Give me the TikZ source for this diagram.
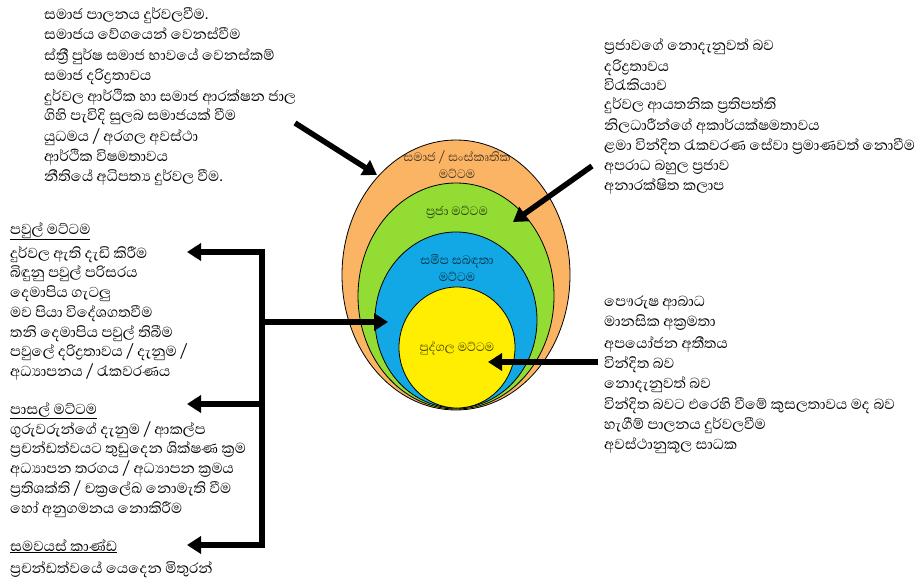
\documentclass[tikz,border=0pt]{standalone}
\usepackage{fontspec}
\newfontfamily\sinhala[Script=Sinhala]{Abhaya Libre}
\usetikzlibrary{arrows.meta,shapes.geometric}

\definecolor{ringorange}{RGB}{250,180,100}
\definecolor{ringgreen}{RGB}{146,220,52}
\definecolor{ringblue}{RGB}{18,168,230}
\definecolor{ringyellow}{RGB}{255,238,0}

\tikzset{
  item/.style={font=\sinhala\fontsize{18.5}{20}\selectfont, anchor=base west, inner sep=0pt, yshift=-2pt},
  level/.style={font=\sinhala\fontsize{15.5}{17}\selectfont, align=center, text=black, text opacity=0.7, inner sep=0pt},
  ring/.style={ellipse, draw=black, line width=0.8pt, inner sep=0pt},
  fat/.style={line width=5.5pt}
}

\begin{document}
\begin{tikzpicture}[x=1pt,y=-1pt,>={Triangle[length=14pt,width=17pt]}]
        \useasboundingbox (0,0) rectangle (924,578);
        % the four levels
        \node[ring, fill=ringorange, minimum width=228, minimum height=270] (socring) at (456,275) {};
        \node[ring, fill=ringgreen, minimum width=196, minimum height=226] (comring) at (456,296) {};
        \node[ring, fill=ringblue, minimum width=162, minimum height=176] (relring) at (456,320) {};
        \node[ring, fill=ringyellow, minimum width=116, minimum height=121] (perring) at (457,347.5) {};
        \node[level] (soclabel) at (457,165) {සමාජ / සංස්කෘතික\\මට්ටම};
        \node[level] (comlabel) at (457,212) {ප්‍රජා මට්ටම};
        \node[level] (rellabel) at (457,268) {සමීප සබඳතා\\මට්ටම};
        \node[level] (perlabel) at (457,348) {පුද්ගල මට්ටම};

        % social level
        \node[item] (soc1) at (44,18) {සමාජ පාලනය දුර්වලවීම.};
        \node[item] (soc2) at (44,38) {සමාජය වේගයෙන් වෙනස්වීම};
        \node[item] (soc3) at (44,58) {ස්ත්‍රී පුර්ෂ සමාජ භාවයේ වෙනස්කම්};
        \node[item] (soc4) at (44,79) {සමාජ දරිද්‍රතාවය};
        \node[item] (soc5) at (44,99) {දුර්වල ආර්ථික හා සමාජ ආරක්ෂන ජාල};
        \node[item] (soc6) at (44,119) {ගිහි පැවිදි සුලබ සමාජයක් වීම};
        \node[item] (soc7) at (44,139) {යුධමය / අරගල අවස්ථා};
        \node[item] (soc8) at (44,159) {ආර්ථික විෂමතාවය};
        \node[item] (soc9) at (44,179) {නීතියේ අධිපත්‍ය දුර්වල වීම.};

        % community level
        \node[item] (com1) at (604,49) {ප්‍රජාවගේ නොදැනුවත් බව};
        \node[item] (com2) at (604,69) {දරිද්‍රතාවය};
        \node[item] (com3) at (604,89) {විරැකියාව};
        \node[item] (com4) at (604,108) {දුර්වල ආයතනික ප්‍රතිපත්ති};
        \node[item] (com5) at (604,128) {නිලධාරීන්ගේ අකාර්යක්ෂමතාවය};
        \node[item] (com6) at (604,148) {ළමා වින්දිත රැකවරණ සේවා ප්‍රමාණවත් නොවීම};
        \node[item] (com7) at (604,168) {අපරාධ බහුල ප්‍රජාව};
        \node[item] (com8) at (604,188) {අනාරක්ෂිත කලාප};

        % family
        \node[item] (fam0) at (10,232) {\underline{පවුල් මට්ටම}};
        \node[item] (fam1) at (10,256) {දුර්වල ඇති දැඩි කිරීම};
        \node[item] (fam2) at (10,275) {බිඳුනු පවුල් පරිසරය};
        \node[item] (fam3) at (10,295) {දෙමාපිය ගැටලු};
        \node[item] (fam4) at (10,315) {මව පියා විදේශගතවීම};
        \node[item] (fam5) at (10,335) {තනි දෙමාපිය පවුල් තිබීම};
        \node[item] (fam6) at (10,354) {පවුලේ දරිද්‍රතාවය / දැනුම /};
        \node[item] (fam7) at (10,374) {අධ්‍යාපනය / රැකවරණය};

        % school
        \node[item] (sch0) at (10,412) {\underline{පාසල් මට්ටම}};
        \node[item] (sch1) at (10,432) {ගුරුවරුන්ගේ දැනුම / ආකල්ප};
        \node[item] (sch2) at (10,451) {ප්‍රචන්ඩත්වයට තුඩුදෙන ශික්ෂණ ක්‍රම};
        \node[item] (sch3) at (10,471) {අධ්‍යාපන තරගය / අධ්‍යාපන ක්‍රමය};
        \node[item] (sch4) at (10,491) {ප්‍රතිශක්ති / චක්‍රලේඛ නොමැති වීම};
        \node[item] (sch5) at (10,511) {හෝ අනුගමනය නොකිරීම};

        % peers
        \node[item] (peer0) at (10,549) {\underline{සමවයස් කාණ්ඩ}};
        \node[item] (peer1) at (10,571) {ප්‍රචන්ඩත්වයේ යෙදෙන මිතුරන්};

        % individual level
        \node[item] (per1) at (604,304) {පෞරුෂ ආබාධ};
        \node[item] (per2) at (604,324) {මානසික අක්‍රමතා};
        \node[item] (per3) at (604,346) {අපයෝජන අතීතය};
        \node[item] (per4) at (604,366) {වින්දිත බව};
        \node[item] (per5) at (604,386) {නොදැනුවත් බව};
        \node[item] (per6) at (604,407) {වින්දිත බවට එරෙහි වීමේ කුසලතාවය මද බව};
        \node[item] (per7) at (604,427) {හැගීම් පාලනය දුර්වලවීම};
        \node[item] (per8) at (604,447) {අවස්ථානුකූල සාධක};

        % arrows
        \coordinate (soctail) at (295,123);
        \coordinate (sochead) at (377,175);
        \coordinate (comtail) at (592,166);
        \coordinate (comhead) at (513,222);
        \coordinate (pertail) at (598,362);
        \coordinate (perhead) at (488,362);
        \coordinate (forktop) at (262,252);
        \coordinate (forkmid) at (262,322);
        \coordinate (forkschool) at (262,404);
        \coordinate (forkbottom) at (262,545);
        \coordinate (famhead) at (187,252);
        \coordinate (schhead) at (187,404);
        \coordinate (peerhead) at (187,545);
        \coordinate (relhead) at (388,322);
        \draw[fat,->] (soctail) -- (sochead);
        \draw[fat,->] (comtail) -- (comhead);
        \draw[fat,->] (pertail) -- (perhead);
        \draw[fat,<->] (peerhead) -- (forkbottom) -- (forktop) -- (famhead);
        \draw[fat,->] (forkschool) -- (schhead);
        \draw[fat,->] (forkmid) -- (relhead);
    \end{tikzpicture}
\end{document}
